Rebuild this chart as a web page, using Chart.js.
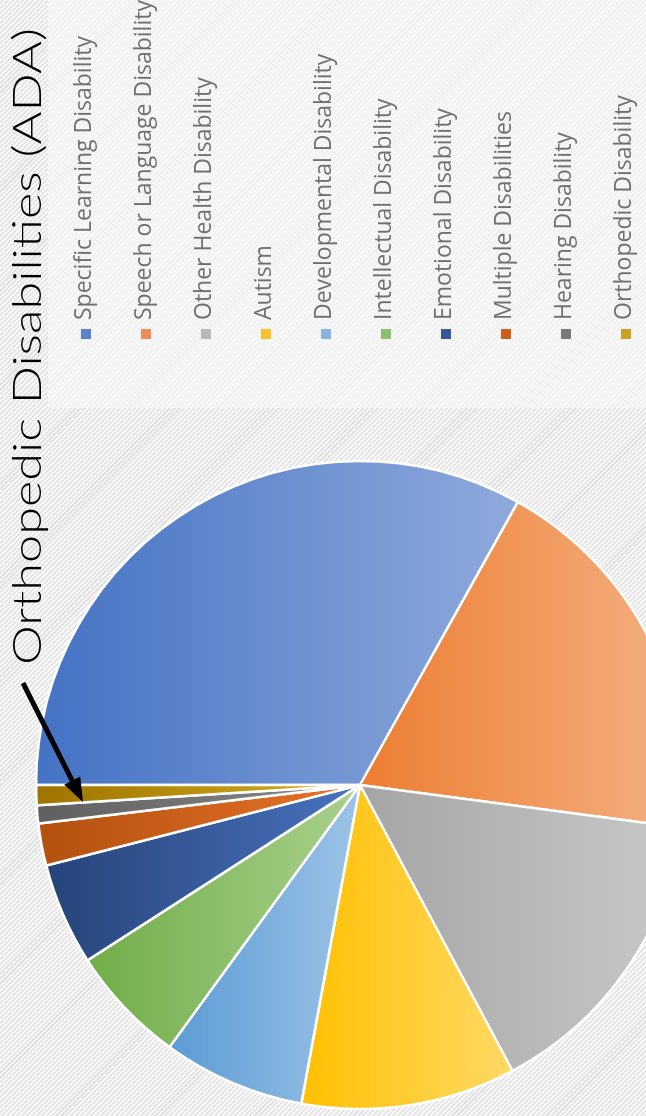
<!DOCTYPE html>
<html>
<head>
<meta charset="utf-8">
<script src="https://cdn.jsdelivr.net/npm/chart.js@4.4.0/dist/chart.umd.min.js"></script>
<style>
  html, body { margin: 0; padding: 0; width: 646px; height: 1116px; overflow: hidden; }
  body { position: relative; background: repeating-linear-gradient(135deg, #f8f8f8 0 2px, #e2e2e2 2px 3.5px); }
  #plain { position: absolute; left: 48px; top: 0; width: 598px; height: 408px;
           background: repeating-linear-gradient(135deg, #f8f8f8 0 2px, #f0f0f0 2px 3.5px); }
  /* the chart is laid out 1116x700 and turned a quarter to the left */
  #wrap { position: absolute; left: 0; top: 0; width: 1116px; height: 700px;
          transform-origin: 0 0; transform: translateY(1116px) rotate(-90deg); }
</style>
</head>
<body>
<div id="plain"></div>
<div id="wrap"><canvas id="chart" width="1116" height="700"></canvas></div>
<script>
const categories = [
  'Specific Learning Disability',
  'Speech or Language Disability',
  'Other Health Disability',
  'Autism',
  'Developmental Disability',
  'Intellectual Disability',
  'Emotional Disability',
  'Multiple Disabilities',
  'Hearing Disability',
  'Orthopedic Disability'
];
const shares = [33.1, 19.0, 15.1, 10.7, 7.1, 5.9, 5.1, 2.1, 0.9, 1.0];
const darkColors = ['#4472c4', '#ed7d31', '#a5a5a5', '#ffc000', '#5b9bd5', '#70ad47', '#264478', '#b4500f', '#5f5f5f', '#9c7400'];
const lightColors = ['#8faadc', '#f4b183', '#c9c9c9', '#ffd966', '#9dc3e6', '#a9d18e', '#4a72c0', '#e8732a', '#8c8c8c', '#dcae1c'];
const keyColors = ['#5b80cf', '#ee8b57', '#b8b8b8', '#f7c22a', '#89b4e0', '#8cc06a', '#35589a', '#cc5f1c', '#7a7a7a', '#c9a020'];
const chartTitle = 'Orthopedic Disabilities (ADA)';

const pieRadius = 324;

// each slice gets its own dark-to-light gradient across its extent
function sliceFill(ctx) {
  const i = ctx.dataIndex;
  const area = ctx.chart.chartArea;
  if (i === undefined || !area) return keyColors[0];
  const total = shares.reduce((a, b) => a + b, 0);
  let before = 0;
  for (let k = 0; k < i; k++) before += shares[k];
  const a0 = -Math.PI / 2 + before / total * 2 * Math.PI;
  const a1 = a0 + shares[i] / total * 2 * Math.PI;
  const cy = (area.top + area.bottom) / 2;
  const ys = [cy, cy + pieRadius * Math.sin(a0), cy + pieRadius * Math.sin(a1)];
  [-Math.PI / 2, Math.PI / 2, 3 * Math.PI / 2].forEach(e => {
    if (e > a0 && e < a1) ys.push(cy + pieRadius * Math.sin(e));
  });
  const g = ctx.chart.ctx.createLinearGradient(0, Math.min(...ys), 0, Math.max(...ys));
  g.addColorStop(0, darkColors[i]);
  g.addColorStop(1, lightColors[i]);
  return g;
}

// title, legend and pointer arrow
const decorations = {
  id: 'decorations',
  afterDraw(chart) {
    const c = chart.ctx;

    c.save();
    c.font = '300 40px Lato';
    c.fillStyle = '#000';
    c.textBaseline = 'alphabetic';
    const w = c.measureText(chartTitle).width;
    c.translate(451, 41);
    c.scale(637 / w, 1);
    c.fillText(chartTitle, 0, 0);
    c.restore();

    c.save();
    c.font = '23px "Open Sans"';
    c.textBaseline = 'alphabetic';
    chart.data.labels.forEach((lab, i) => {
      const v = 86 + 60 * i;
      c.fillStyle = keyColors[i];
      c.fillRect(777, v - 5, 10, 10);
      c.fillStyle = '#707070';
      c.fillText(lab, 796, v + 5);
    });
    c.restore();

    c.save();
    const x0 = 433, y0 = 23, x1 = 314, y1 = 83;
    const ang = Math.atan2(y1 - y0, x1 - x0);
    const head = 24, half = 9;
    c.strokeStyle = '#000';
    c.fillStyle = '#000';
    c.lineWidth = 5;
    c.beginPath();
    c.moveTo(x0, y0);
    c.lineTo(x1 - (head - 2) * Math.cos(ang), y1 - (head - 2) * Math.sin(ang));
    c.stroke();
    c.beginPath();
    c.moveTo(x1, y1);
    c.lineTo(x1 - head * Math.cos(ang) - half * Math.sin(ang), y1 - head * Math.sin(ang) + half * Math.cos(ang));
    c.lineTo(x1 - head * Math.cos(ang) + half * Math.sin(ang), y1 - head * Math.sin(ang) - half * Math.cos(ang));
    c.closePath();
    c.fill();
    c.restore();
  }
};

new Chart(document.getElementById('chart'), {
  type: 'pie',
  data: {
    labels: categories,
    datasets: [{
      data: shares,
      backgroundColor: sliceFill,
      borderColor: '#ffffff',
      borderWidth: 2.5,
      radius: pieRadius
    }]
  },
  options: {
    responsive: false,
    animation: false,
    layout: { padding: { left: 6, top: 35, right: 460, bottom: 15 } },
    plugins: {
      legend: { display: false },
      title: { display: false },
      tooltip: { enabled: false }
    }
  },
  plugins: [decorations]
});
</script>
</body>
</html>
